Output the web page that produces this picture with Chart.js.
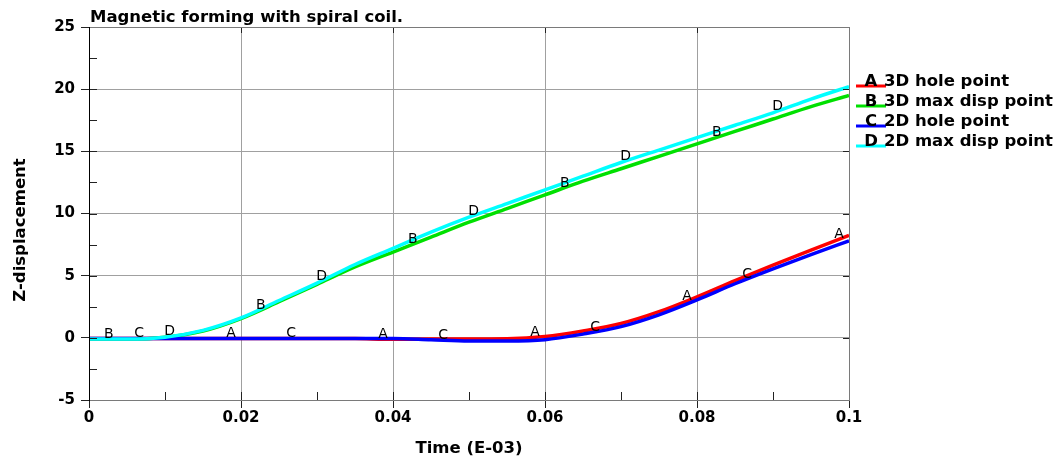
<!DOCTYPE html>
<html>
<head>
<meta charset="utf-8">
<script src="https://cdn.jsdelivr.net/npm/chart.js@4.4.1/dist/chart.umd.min.js"></script>
<style>
  html, body { margin: 0; padding: 0; background: #fff; }
  #wrap { width: 1059px; height: 459px; }
</style>
</head>
<body>
<div id="wrap"><canvas id="chart" width="1059" height="459"></canvas></div>
<script>
// time axis (E-03)
const times = [0, 0.005, 0.01, 0.015, 0.02, 0.025, 0.03, 0.035, 0.04, 0.045, 0.05,
               0.055, 0.06, 0.065, 0.07, 0.075, 0.08, 0.085, 0.09, 0.095, 0.1];

// Z-displacement per curve
const holePoint3D = [-0.05, -0.05, -0.05, -0.05, -0.05, -0.05, -0.05, -0.06, -0.12, -0.1, -0.1,
                     -0.08, 0.1, 0.55, 1.15, 2.1, 3.3, 4.6, 5.85, 7.05, 8.25];
const maxDisp3D   = [-0.1, -0.1, 0.05, 0.55, 1.55, 2.9, 4.3, 5.7, 6.9, 8.1, 9.3,
                     10.4, 11.5, 12.6, 13.6, 14.6, 15.6, 16.6, 17.6, 18.6, 19.5];
const holePoint2D = [-0.05, -0.05, -0.05, -0.05, -0.05, -0.05, -0.05, -0.05, -0.05, -0.15, -0.25,
                     -0.25, -0.15, 0.3, 0.9, 1.85, 3.05, 4.35, 5.55, 6.7, 7.8];
const maxDisp2D   = [-0.1, -0.1, 0.05, 0.6, 1.6, 3.0, 4.4, 5.9, 7.2, 8.5, 9.7,
                     10.8, 11.9, 13.0, 14.1, 15.1, 16.1, 17.1, 18.1, 19.2, 20.2];

const seriesNames = ['3D hole point', '3D max disp point', '2D hole point', '2D max disp point'];
const seriesLetters = ['A', 'B', 'C', 'D'];
const seriesColors = ['#ff0000', '#00e000', '#0000ff', '#00ffff'];

// where the curve letters sit (time)
const markersA = [0.0187, 0.0387, 0.0587, 0.0787, 0.0987];
const markersB = [0.0026, 0.0226, 0.0426, 0.0626, 0.0826];
const markersC = [0.0066, 0.0266, 0.0466, 0.0666, 0.0866];
const markersD = [0.0106, 0.0306, 0.0506, 0.0706, 0.0906];

// minor tick marks
const xMinor = [0.01, 0.03, 0.05, 0.07, 0.09];
const yMinor = [-2.5, 2.5, 7.5, 12.5, 17.5, 22.5];

const chartTitle = 'Magnetic forming with spiral coil.';
const xTitle = 'Time (E-03)';
const yTitle = 'Z-displacement';

const allSeries = [holePoint3D, maxDisp3D, holePoint2D, maxDisp2D];
const allMarkers = [markersA, markersB, markersC, markersD];

function toPoints(vals){ return times.map((t, i) => ({ x: t, y: vals[i] })); }

function interp(vals, t){
  for(let i = 0; i < times.length - 1; i++){
    if(t >= times[i] && t <= times[i+1]){
      const f = (t - times[i]) / (times[i+1] - times[i]);
      return vals[i] + f * (vals[i+1] - vals[i]);
    }
  }
  return vals[vals.length - 1];
}

const FONT = 'DejaVu Sans';

const decor = {
  id: 'decor',
  afterDatasetsDraw(chart){
    const {ctx, scales:{x, y}} = chart;
    ctx.save();
    ctx.fillStyle = '#000';
    ctx.font = '14px "' + FONT + '"';
    ctx.textAlign = 'center';
    ctx.textBaseline = 'alphabetic';
    allSeries.forEach((vals, i) => {
      allMarkers[i].forEach(t => {
        const px = x.getPixelForValue(t);
        const py = y.getPixelForValue(interp(vals, t));
        ctx.fillText(seriesLetters[i], px, py - 1);
      });
    });
    ctx.restore();
  },
  afterDraw(chart){
    const {ctx, chartArea:a, scales:{x, y}} = chart;
    ctx.save();
    // inner tick marks
    ctx.strokeStyle = '#222';
    ctx.lineWidth = 1;
    ctx.beginPath();
    const xMajor = x.ticks.map(tk => tk.value);
    const yMajor = y.ticks.map(tk => tk.value);
    xMinor.concat(xMajor).forEach(v => {
      const px = Math.round(x.getPixelForValue(v)) + 0.5;
      ctx.moveTo(px, a.bottom); ctx.lineTo(px, a.bottom - 8);
    });
    xMajor.forEach(v => {
      const px = Math.round(x.getPixelForValue(v)) + 0.5;
      ctx.moveTo(px, a.top); ctx.lineTo(px, a.top + 6);
    });
    yMinor.concat(yMajor).forEach(v => {
      const py = Math.round(y.getPixelForValue(v)) + 0.5;
      ctx.moveTo(a.left, py); ctx.lineTo(a.left + 8, py);
    });
    yMajor.forEach(v => {
      const py = Math.round(y.getPixelForValue(v)) + 0.5;
      ctx.moveTo(a.right, py); ctx.lineTo(a.right - 6, py);
    });
    ctx.stroke();

    // frame
    ctx.strokeStyle = '#7a7a7a';
    ctx.strokeRect(a.left + 0.5, a.top + 0.5, a.right - a.left, a.bottom - a.top);
    ctx.strokeStyle = '#000';
    ctx.beginPath();
    ctx.moveTo(a.left + 0.5, a.top); ctx.lineTo(a.left + 0.5, a.bottom + 1);
    ctx.stroke();

    // titles
    ctx.fillStyle = '#000';
    ctx.font = 'bold 16.5px "' + FONT + '"';
    ctx.textAlign = 'left';
    ctx.textBaseline = 'alphabetic';
    ctx.fillText(chartTitle, a.left + 1, 22);

    ctx.textAlign = 'center';
    ctx.fillText(xTitle, (a.left + a.right) / 2, 453);

    ctx.save();
    ctx.translate(25, 230);
    ctx.rotate(-Math.PI / 2);
    ctx.fillText(yTitle, 0, 0);
    ctx.restore();

    // legend
    ctx.font = 'bold 16.5px "' + FONT + '"';
    seriesNames.forEach((name, i) => {
      const ly = 86 + i * 20;
      ctx.strokeStyle = seriesColors[i];
      ctx.lineWidth = 3;
      ctx.beginPath();
      ctx.moveTo(856, ly); ctx.lineTo(886, ly);
      ctx.stroke();
      ctx.fillStyle = '#000';
      ctx.textAlign = 'center';
      ctx.fillText(seriesLetters[i], 871, ly);
      ctx.textAlign = 'left';
      ctx.fillText(name, 884, ly);
    });
    ctx.restore();
  }
};

new Chart(document.getElementById('chart'), {
  type: 'line',
  data: {
    // later curves drawn on top (lower order = on top)
    datasets: allSeries.map((vals, i) => ({
      label: seriesNames[i],
      data: toPoints(vals),
      order: allSeries.length - i,
      borderColor: seriesColors[i],
      backgroundColor: seriesColors[i],
      borderWidth: 3.5,
      pointRadius: 0,
      cubicInterpolationMode: 'monotone',
      fill: false
    }))
  },
  options: {
    responsive: false,
    animation: false,
    devicePixelRatio: 1,
    layout: { padding: { top: 27, right: 210, left: 0, bottom: 0 } },
    plugins: { legend: { display: false }, tooltip: { enabled: false }, title: { display: false } },
    scales: {
      x: {
        type: 'linear', min: 0, max: 0.1,
        afterFit(s){ s.height = 59; },
        ticks: {
          stepSize: 0.02, padding: 1, color: '#000',
          font: { family: FONT, size: 15, weight: 'bold' },
          callback: v => String(parseFloat(v.toFixed(3)))
        },
        grid: { color: '#a0a0a0', lineWidth: 1, tickLength: 8, tickColor: '#222' },
        border: { display: false }
      },
      y: {
        type: 'linear', min: -5, max: 25,
        afterFit(s){ s.width = 89; },
        ticks: {
          stepSize: 5, padding: 6, color: '#000',
          font: { family: FONT, size: 15, weight: 'bold' }
        },
        grid: { color: '#a0a0a0', lineWidth: 1, tickLength: 8, tickColor: '#222' },
        border: { display: false }
      }
    }
  },
  plugins: [decor]
});
</script>
</body>
</html>
